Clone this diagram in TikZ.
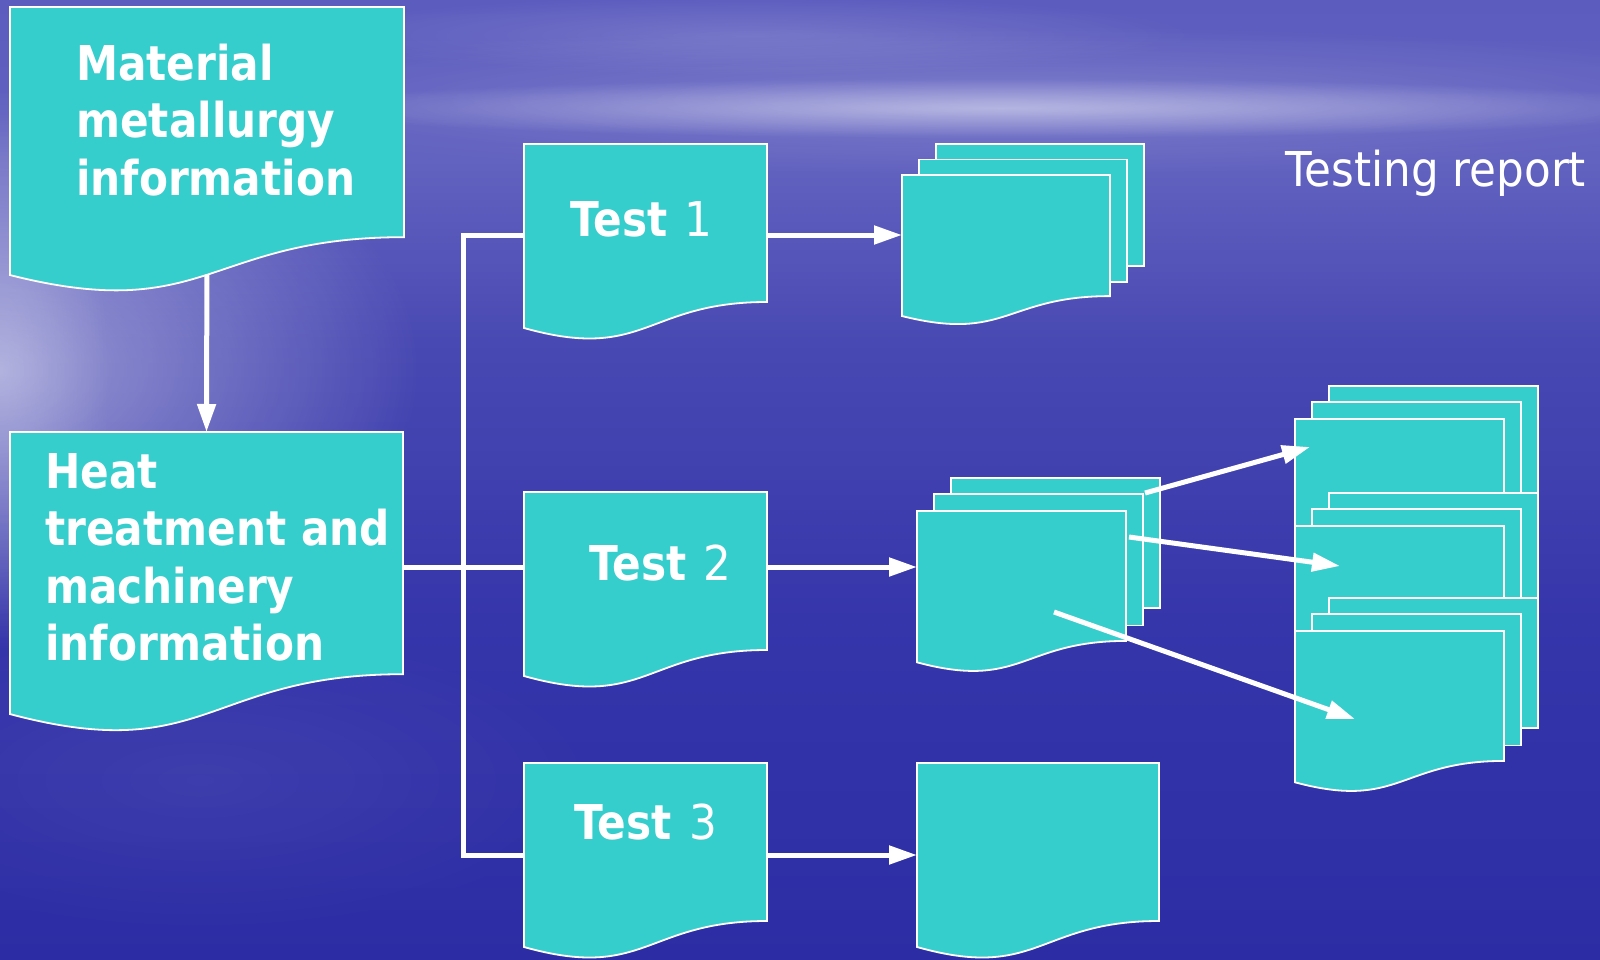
\documentclass[tikz,border=0pt]{standalone}
\usepackage{fontspec}
\setmainfont{DejaVu Sans}[FakeStretch=0.88]
\newfontfamily\regfont{DejaVu Sans}[FakeStretch=0.91]
\usetikzlibrary{arrows.meta,fadings}
\definecolor{boxteal}{HTML}{36CDCD}
\definecolor{bg0}{HTML}{5C5CBF}
\definecolor{bg1}{HTML}{6262C0}
\definecolor{bg2}{HTML}{4949B3}
\definecolor{bg3}{HTML}{3636AB}
\definecolor{bg4}{HTML}{2C2CA4}
\tikzfading[name=softedge, inner color=transparent!0, outer color=transparent!100]
\tikzset{
  docsty/.style={fill=boxteal, draw=white, line width=1.8pt, line join=miter},
  conn/.style={draw=white, line width=5pt},
  arr/.style={conn, -{Triangle[length=28pt,width=18pt]}},
  lbl/.style={text=white, inner sep=0pt, align=left, font=\fontsize{48}{57.5}\selectfont\bfseries},
  tlbl/.style={text=white, inner sep=0pt, font=\fontsize{48}{57.5}\selectfont},
  anch/.style={inner sep=0pt, outer sep=0pt, draw=none, fill=none, anchor=north west}
}
% document shape: name, x, y, w, h
\newcommand\docbox[5]{%
  \path[docsty] (#2,#3) -- ({#2+#4},#3) -- ({#2+#4},{#3+0.802*#5})
    .. controls ({#2+0.5*#4},{#3+0.802*#5}) and ({#2+0.5*#4},{#3+1.1075*#5}) ..
    (#2,{#3+0.934*#5}) -- cycle;
  \node[anch, minimum width=#4pt, minimum height={0.802*#5pt}] (#1) at (#2,#3) {};
}
% multi-document: name, x, y, w, h (front sheet)
\newcommand\mdoc[5]{%
  \path[docsty] ({#2+34},{#3-0.206*#5}) rectangle ({#2+34+#4},{#3+0.6*#5});
  \path[docsty] ({#2+17},{#3-0.103*#5}) rectangle ({#2+17+#4},{#3+0.707*#5});
  \docbox{#1}{#2}{#3}{#4}{#5}
}
\newcommand\testlbl[1]{{\bfseries Test}\hspace{0.36em}{\regfont #1}}
\begin{document}
\begin{tikzpicture}[x=1pt,y=-1pt]
\useasboundingbox (0,0) rectangle (1600,960);
% background
\shade[top color=bg0, bottom color=bg1] (0,0) rectangle (1600,160);
\shade[top color=bg1, bottom color=bg2] (0,160) rectangle (1600,340);
\shade[top color=bg2, bottom color=bg3] (0,340) rectangle (1600,620);
\shade[top color=bg3, bottom color=bg4] (0,620) rectangle (1600,960);
\fill[white, opacity=.18, path fading=softedge] (1000,100) ellipse [x radius=850, y radius=75];
\fill[white, opacity=.45, path fading=softedge] (1000,108) ellipse [x radius=720, y radius=30];
\fill[white, opacity=.15, path fading=softedge] (750,35) ellipse [x radius=450, y radius=40];
\fill[white, opacity=.45, path fading=softedge] (0,370) ellipse [x radius=420, y radius=280];
\fill[white, opacity=.25, path fading=softedge] (0,370) ellipse [x radius=110, y radius=260];
\fill[white, opacity=.06, path fading=softedge] (200,780) ellipse [x radius=420, y radius=160];

% coordinates for connector lines
\coordinate (bt) at (463,235);
\coordinate (bb) at (463,855);
\coordinate (c2) at (463,567);

% invisible anchor nodes for the connectors
\node[anch, minimum width=394pt, minimum height=230pt] (mm) at (10,7) {};
\node[anch, minimum width=393pt, minimum height=242pt] (heat) at (10,432) {};
\node[anch, minimum width=243pt, minimum height=158pt] (t1) at (524,144) {};
\node[anch, minimum width=243pt, minimum height=158pt] (t2) at (524,492) {};
\node[anch, minimum width=243pt, minimum height=158pt] (t3) at (524,763) {};
\node[anch, minimum width=208pt, minimum height=121pt] (r1) at (902,175) {};
\node[anch, minimum width=209pt, minimum height=130pt] (r2) at (917,511) {};
\node[anch, minimum width=242pt, minimum height=158pt] (o3) at (917,763) {};

% straight connectors (drawn under boxes)
\draw[arr] (mm.south) -- (heat.north);
\draw[conn] (heat.east |- c2) -- (t2.west |- c2);
\draw[conn] (t1.west |- bt) -- (bt) -- (bb) -- (t3.west |- bb);
\draw[arr] (t1.east |- bt) -- (r1.west |- bt);
\draw[arr] (t2.east |- c2) -- (r2.west |- c2);
\draw[arr] (t3.east |- bb) -- (o3.west |- bb);

% boxes
\docbox{mm}{10}{7}{394}{287}
\docbox{heat}{10}{432}{393}{302}
\docbox{t1}{524}{144}{243}{197}
\docbox{t2}{524}{492}{243}{197}
\docbox{t3}{524}{763}{243}{197}
\mdoc{r1}{902}{175}{208}{151}
\mdoc{r2}{917}{511}{209}{162}
\docbox{o3}{917}{763}{242}{197}
\mdoc{ra}{1295}{419}{209}{162}
\mdoc{rb}{1295}{526}{209}{162}
\mdoc{rc}{1295}{631}{209}{162}

% diagonal arrows on top
\coordinate (s1) at (1145,493);
\coordinate (e1) at (1310,447);
\coordinate (s2) at (1129,537);
\coordinate (e2) at (1340,566);
\coordinate (s3) at (1054,612);
\coordinate (e3) at (1355,719);
\draw[arr] (s1) -- (e1);
\draw[arr] (s2) -- (e2);
\draw[arr] (s3) -- (e3);

% texts
\node[lbl, anchor=north west] (mmt) at (76,43.5) {Material\\metallurgy\\information};
\node[lbl, anchor=north west] (heatt) at (45,453) {Heat\\treatment and\\machinery\\information};
\node[tlbl, anchor=base west] (t1t) at (570,236) {\testlbl{1}};
\node[tlbl, anchor=base west] (t2t) at (589,580) {\testlbl{2}};
\node[tlbl, anchor=base west] (t3t) at (574.5,839) {\testlbl{3}};
\node[text=white, inner sep=0pt, anchor=base west, font=\regfont\fontsize{48}{56}\selectfont] (trep) at (1285,186) {Testing report};
\end{tikzpicture}
\end{document}
